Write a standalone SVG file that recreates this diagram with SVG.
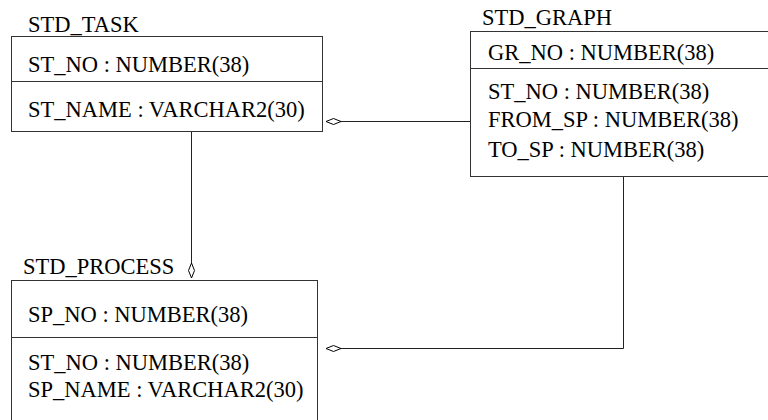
<svg xmlns="http://www.w3.org/2000/svg" width="768" height="420" viewBox="0 0 768 420">
<style>
.box{fill:#fff;stroke:#333;stroke-width:1}
.div{stroke:#333;stroke-width:1}
.c{fill:none;stroke:#222;stroke-width:1}
.d{fill:#fff;stroke:#000;stroke-width:1}
</style>
<defs>
<path id="dh" class="d" d="M0 0 L7.5 -3 L15 0 L7.5 3 Z"/>
</defs>
<rect width="768" height="420" fill="#fff"/>
<g id="connectors">
<path class="c" d="M341 121.5 H470.5"/>
<use href="#dh" x="326" y="121.5"/>
<path class="c" d="M191.5 131 V263"/>
<path class="d" d="M191.5 278 L188.5 270.5 L191.5 263 L194.5 270.5 Z"/>
<path class="c" d="M623.5 177 V348.5 H341"/>
<use href="#dh" x="326" y="348.5"/>
</g>
<g id="std_task">
<rect class="box" x="11.5" y="36.5" width="311" height="95"/>
<line class="div" x1="11.5" y1="81.5" x2="322.5" y2="81.5"/>
</g>
<g id="std_graph">
<rect class="box" x="470.5" y="31.5" width="300" height="145"/>
<line class="div" x1="470.5" y1="68.5" x2="770" y2="68.5"/>
</g>
<g id="std_process">
<rect class="box" x="11.5" y="280.5" width="306" height="150"/>
<line class="div" x1="11.5" y1="337.5" x2="317.5" y2="337.5"/>
</g>
<text x="28" y="32" font-family="Liberation Serif" font-size="22.5">STD_TASK</text>
<text x="28" y="72" font-family="Liberation Serif" font-size="22.5">ST_NO : NUMBER(38)</text>
<text x="28" y="117" font-family="Liberation Serif" font-size="22.5">ST_NAME : VARCHAR2(30)</text>
<text x="482" y="25" font-family="Liberation Serif" font-size="22.5">STD_GRAPH</text>
<text x="488" y="60" font-family="Liberation Serif" font-size="22.5">GR_NO : NUMBER(38)</text>
<text x="488" y="99" font-family="Liberation Serif" font-size="22.5">ST_NO : NUMBER(38)</text>
<text x="488" y="127" font-family="Liberation Serif" font-size="22.5">FROM_SP : NUMBER(38)</text>
<text x="488" y="157" font-family="Liberation Serif" font-size="22.5">TO_SP : NUMBER(38)</text>
<text x="23" y="274" font-family="Liberation Serif" font-size="22.5">STD_PROCESS</text>
<text x="28" y="322" font-family="Liberation Serif" font-size="22.5">SP_NO : NUMBER(38)</text>
<text x="28" y="370" font-family="Liberation Serif" font-size="22.5">ST_NO : NUMBER(38)</text>
<text x="28" y="397" font-family="Liberation Serif" font-size="22.5">SP_NAME : VARCHAR2(30)</text>
</svg>
